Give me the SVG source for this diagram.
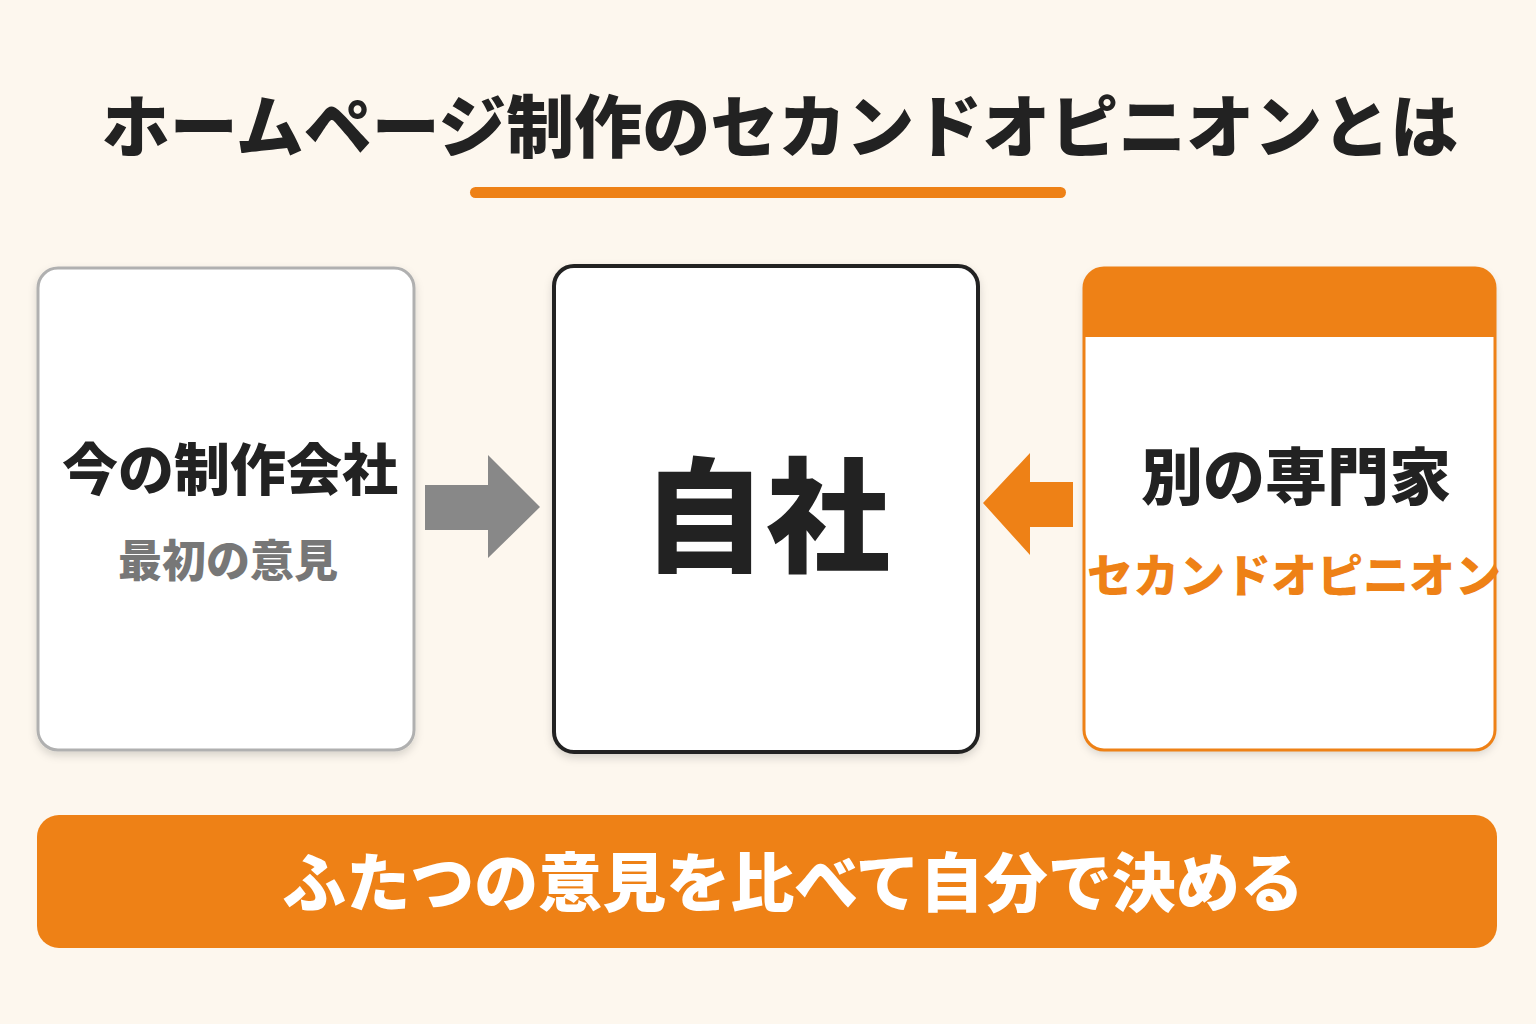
<svg xmlns="http://www.w3.org/2000/svg" width="1536" height="1024" viewBox="0 0 1536 1024">
<defs>
<filter id="sh" x="-10%" y="-10%" width="120%" height="120%"><feDropShadow dx="0" dy="4" stdDeviation="4" flood-color="#000" flood-opacity="0.15"/></filter>
<clipPath id="rc"><rect x="1084" y="268" width="411" height="482" rx="20"/></clipPath>
</defs>
<style>
text{font-family:"Noto Sans CJK JP","Noto Sans",sans-serif;font-weight:900;text-anchor:middle}
</style>
<rect width="1536" height="1024" fill="#fdf7ee"/>
<g id="title">
<text x="780" y="152" font-size="68" fill="#222">ホームページ制作のセカンドオピニオンとは</text>
<rect x="470" y="187" width="596" height="11" rx="5.5" fill="#ee8116"/>
</g>
<g id="left">
<rect x="38" y="268" width="376" height="482" rx="20" fill="#fff" stroke="#b0b0b0" stroke-width="3" filter="url(#sh)"/>
<text x="230" y="490" font-size="56" fill="#222">今の制作会社</text>
<text x="228" y="577" font-size="44" fill="#777">最初の意見</text>
</g>
<g id="center">
<rect x="554" y="266" width="424" height="486" rx="20" fill="#fff" stroke="#222" stroke-width="4" filter="url(#sh)"/>
<text x="766" y="562" font-size="124" fill="#222">自社</text>
</g>
<g id="right">
<rect x="1084" y="268" width="411" height="482" rx="20" fill="#fff" filter="url(#sh)"/>
<rect x="1084" y="268" width="411" height="69" fill="#ee8116" clip-path="url(#rc)"/>
<rect x="1084" y="268" width="411" height="482" rx="20" fill="none" stroke="#ee8116" stroke-width="3"/>
<text x="1296" y="500" font-size="62" fill="#222">別の専門家</text>
<text x="1294" y="592" font-size="46" fill="#ee8116">セカンドオピニオン</text>
</g>
<g id="connectors">
<polygon points="425,485 488,485 488,455 540,507 488,558 488,530 425,530" fill="#888"/>
<polygon points="1073,482 1030,482 1030,453 983,503 1030,555 1030,527 1073,527" fill="#ee8116"/>
</g>
<g id="banner">
<rect x="37" y="815" width="1460" height="133" rx="22" fill="#ee8116"/>
<text x="793" y="906" font-size="64" fill="#fff">ふたつの意見を比べて自分で決める</text>
</g>
</svg>
